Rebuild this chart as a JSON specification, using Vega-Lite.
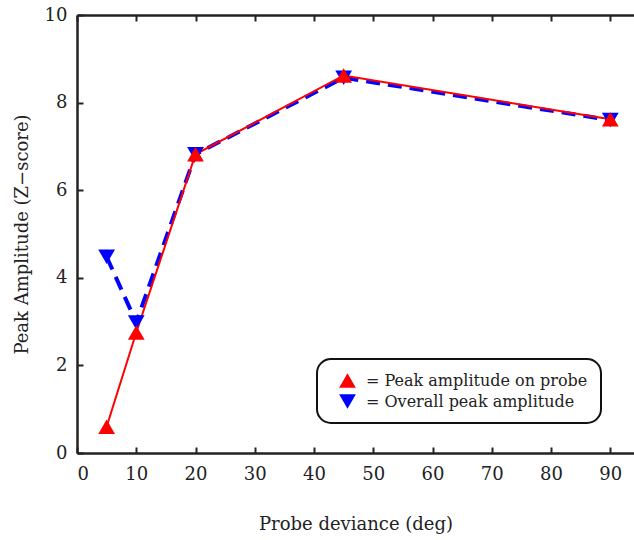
{
  "$schema": "https://vega.github.io/schema/vega-lite/v6.json",
  "width": 557,
  "height": 438,
  "autosize": {"type": "none"},
  "padding": {"left": 77, "top": 15, "right": 0, "bottom": 87},
  "background": "white",
  "config": {
    "view": {"stroke": null},
    "font": "DejaVu Serif",
    "legend": {"strokeWidth": 2},
    "axis": {
      "labelFont": "DejaVu Serif",
      "titleFont": "DejaVu Serif",
      "labelFontSize": 18,
      "titleFontSize": 18,
      "titleFontWeight": "normal",
      "labelColor": "#222",
      "titleColor": "#222",
      "domainColor": "#222",
      "domainWidth": 2.5,
      "tickColor": "#222",
      "tickWidth": 2,
      "grid": false
    }
  },
  "data": {
    "values": [
      {"deg": 5, "amp": 4.48, "series": "Overall peak amplitude"},
      {"deg": 10, "amp": 2.98, "series": "Overall peak amplitude"},
      {"deg": 20, "amp": 6.82, "series": "Overall peak amplitude"},
      {"deg": 45, "amp": 8.57, "series": "Overall peak amplitude"},
      {"deg": 90, "amp": 7.6, "series": "Overall peak amplitude"},
      {"deg": 5, "amp": 0.6, "series": "Peak amplitude on probe"},
      {"deg": 10, "amp": 2.75, "series": "Peak amplitude on probe"},
      {"deg": 20, "amp": 6.82, "series": "Peak amplitude on probe"},
      {"deg": 45, "amp": 8.62, "series": "Peak amplitude on probe"},
      {"deg": 90, "amp": 7.62, "series": "Peak amplitude on probe"}
    ]
  },
  "layer": [
    {
      "transform": [{"filter": "datum.series === 'Overall peak amplitude'"}],
      "mark": {"type": "line", "color": "#0000ff", "strokeWidth": 4, "strokeDash": [14, 8]},
      "encoding": {
        "x": {
          "field": "deg", "type": "quantitative",
          "scale": {"domain": [0, 94], "nice": false, "zero": false},
          "axis": {
            "orient": "bottom",
            "title": "Probe deviance (deg)",
            "values": [0, 10, 20, 30, 40, 50, 60, 70, 80, 90],
            "tickSize": -6,
            "labelPadding": 18,
            "titlePadding": 32
          }
        },
        "y": {
          "field": "amp", "type": "quantitative",
          "scale": {"domain": [0, 10], "nice": false},
          "axis": {
            "title": "Peak Amplitude (Z−score)",
            "values": [0, 2, 4, 6, 8, 10],
            "tickSize": -6,
            "labelPadding": 16,
            "titlePadding": 13
          }
        }
      }
    },
    {
      "transform": [{"filter": "datum.series === 'Peak amplitude on probe'"}],
      "mark": {"type": "line", "color": "#ff0000", "strokeWidth": 2},
      "encoding": {
        "x": {"field": "deg", "type": "quantitative", "axis": null},
        "y": {"field": "amp", "type": "quantitative"}
      }
    },
    {
      "mark": {"type": "point", "filled": true, "opacity": 1, "size": 280},
      "encoding": {
        "x": {"field": "deg", "type": "quantitative",
          "axis": {"orient": "top", "labels": false, "title": null,
            "values": [0, 10, 20, 30, 40, 50, 60, 70, 80, 90], "tickSize": -6}},
        "y": {"field": "amp", "type": "quantitative"},
        "color": {
          "field": "series", "type": "nominal",
          "scale": {"domain": ["Peak amplitude on probe", "Overall peak amplitude"], "range": ["#ff0000", "#0000ff"]},
          "legend": {
            "title": null,
            "orient": "none",
            "legendX": 240,
            "legendY": 344,
            "labelExpr": "'= ' + datum.label",
            "labelFont": "DejaVu Serif",
            "labelFontSize": 16,
            "labelColor": "#222",
            "labelLimit": 400,
            "symbolSize": 280,
            "symbolStrokeWidth": 0,
            "symbolOffset": 9,
            "labelOffset": 10,
            "rowPadding": 4,
            "padding": 13,
            "cornerRadius": 14,
            "strokeColor": "#111",
            "fillColor": "white"
          }
        },
        "shape": {
          "field": "series", "type": "nominal",
          "scale": {"domain": ["Peak amplitude on probe", "Overall peak amplitude"], "range": ["triangle-up", "triangle-down"]},
          "legend": null
        }
      }
    }
  ],
  "resolve": {"axis": {"x": "independent"}}
}
